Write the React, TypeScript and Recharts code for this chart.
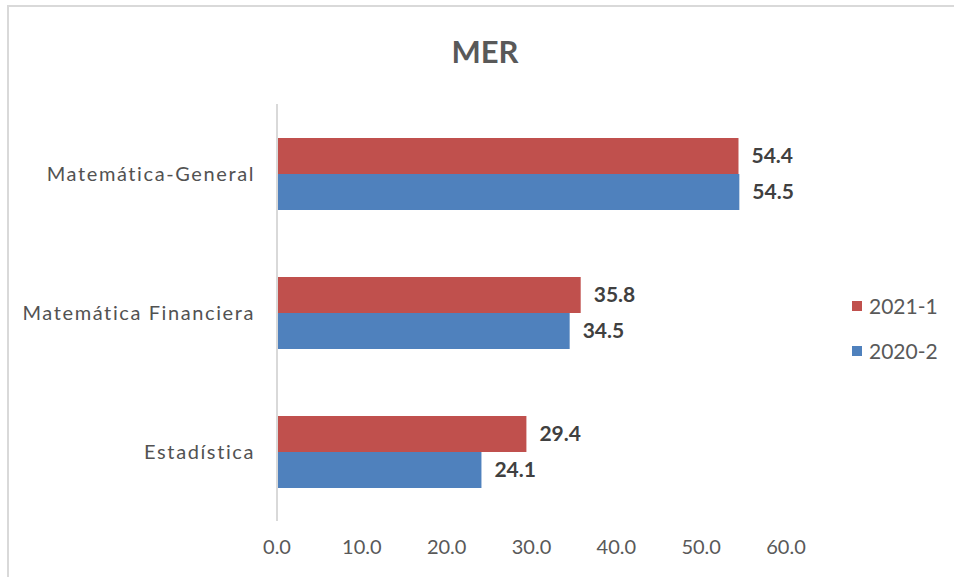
import React from 'react'
import { BarChart, Bar, XAxis, YAxis, Legend, LabelList } from 'recharts'

// materias (eje vertical) y valores por periodo
const categories = ['Matemática-General', 'Matemática Financiera', 'Estadística']
const values2021_1 = [54.4, 35.8, 29.4]
const values2020_2 = [54.5, 34.5, 24.1]
const xTicks = [0, 10, 20, 30, 40, 50, 60]

const series = [
  { key: '2021-1', values: values2021_1, color: '#C0504D' },
  { key: '2020-2', values: values2020_2, color: '#4F81BD' },
]

const data = categories.map((name, i) => ({
  name,
  '2021-1': values2021_1[i],
  '2020-2': values2020_2[i],
}))

const FONT = 'Lato, "Open Sans", sans-serif'
const GRAY = '#595959'

// leyenda en el mismo orden que las series
function LegendBox() {
  return (
    <div style={{ fontFamily: FONT }}>
      {series.map((s) => (
        <div key={s.key} style={{ display: 'flex', alignItems: 'center', height: 45, fontSize: 21, color: GRAY }}>
          <span style={{ width: 10, height: 10, background: s.color, marginRight: 7, display: 'inline-block' }} />
          {s.key}
        </div>
      ))}
    </div>
  )
}

export default function App() {
  return (
    <div style={{ position: 'absolute', left: 0, top: 0, width: 954, height: 577, background: '#fff' }}>
      <div style={{
        position: 'absolute', left: 7, top: 5, right: 0, bottom: 0,
        borderTop: '2px solid #d9d9d9', borderLeft: '2px solid #d9d9d9',
      }} />
      <div style={{
        position: 'absolute', left: 0, width: 970, top: 32, textAlign: 'center',
        fontFamily: FONT, fontWeight: 'bold', fontSize: 31, color: GRAY,
      }}>
        MER
      </div>
      <div style={{ position: 'absolute', left: 0, top: 0 }}>
        <BarChart
          width={954}
          height={577}
          data={data}
          layout="vertical"
          margin={{ top: 104, right: 68, bottom: 0, left: 0 }}
          barGap={0}
          barSize={36}
        >
          <XAxis
            type="number"
            domain={[0, 60]}
            ticks={xTicks}
            tickFormatter={(v: number) => v.toFixed(1)}
            axisLine={false}
            tickLine={false}
            height={56}
            tickMargin={13}
            tick={{ fill: GRAY, fontSize: 20, fontFamily: FONT }}
          />
          <YAxis
            type="category"
            dataKey="name"
            width={277}
            axisLine={{ stroke: '#d9d9d9', strokeWidth: 2 }}
            tickLine={false}
            tickMargin={16}
            tick={{ fill: '#525252', fontSize: 20, fontFamily: FONT, letterSpacing: 1.6 }}
          />
          <Legend
            layout="vertical"
            verticalAlign="middle"
            align="right"
            content={<LegendBox />}
            wrapperStyle={{ left: 852, top: 283, width: 100 }}
          />
          {series.map((s) => (
            <Bar key={s.key} dataKey={s.key} name={s.key} fill={s.color} isAnimationActive={false}>
              <LabelList
                dataKey={s.key}
                position="right"
                offset={13}
                formatter={(v: number) => v.toFixed(1)}
                style={{ fill: '#404040', fontWeight: 'bold', fontSize: 21, fontFamily: FONT }}
              />
            </Bar>
          ))}
        </BarChart>
      </div>
    </div>
  )
}
